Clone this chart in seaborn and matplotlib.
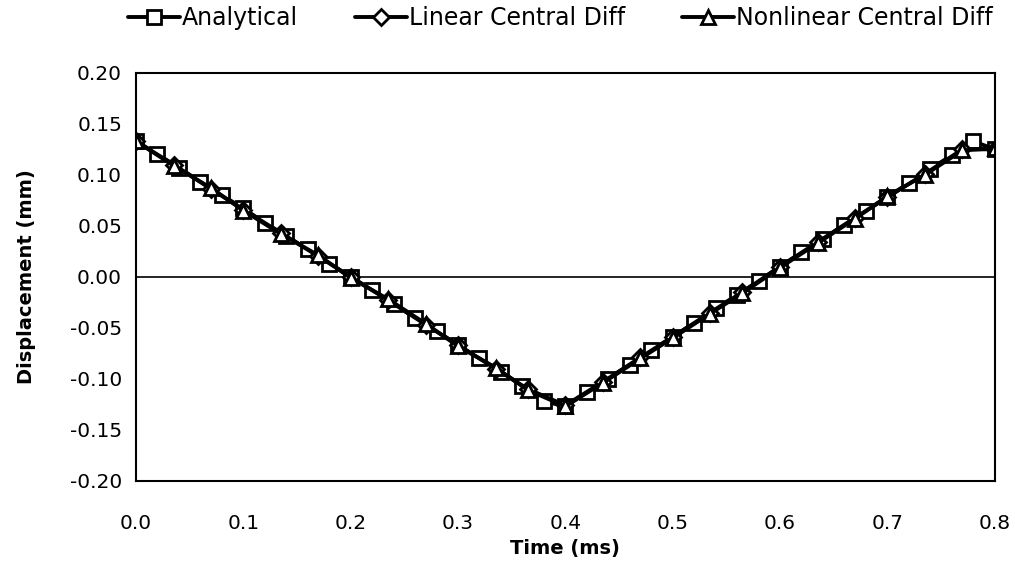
import numpy as np
import pandas as pd
import seaborn as sns
import matplotlib
matplotlib.use("Agg")
import matplotlib.pyplot as plt

# Analytical solution (sampled every 0.02 ms)
t_analytical = [0.00, 0.02, 0.04, 0.06, 0.08, 0.10, 0.12, 0.14, 0.16, 0.18,
                0.20, 0.22, 0.24, 0.26, 0.28, 0.30, 0.32, 0.34, 0.36, 0.38,
                0.40, 0.42, 0.44, 0.46, 0.48, 0.50, 0.52, 0.54, 0.56, 0.58,
                0.60, 0.62, 0.64, 0.66, 0.68, 0.70, 0.72, 0.74, 0.76, 0.78, 0.80]
d_analytical = [0.133, 0.120, 0.107, 0.093, 0.080, 0.067, 0.053, 0.040, 0.027, 0.013,
                0.000, -0.013, -0.027, -0.040, -0.053, -0.067, -0.080, -0.093, -0.107, -0.122,
                -0.127, -0.113, -0.100, -0.086, -0.072, -0.059, -0.045, -0.031, -0.018, -0.004,
                0.010, 0.024, 0.037, 0.051, 0.065, 0.078, 0.092, 0.106, 0.119, 0.133, 0.125]

# Numerical solutions
t_numeric = [0.000, 0.035, 0.070, 0.100, 0.135, 0.170, 0.200, 0.235, 0.270, 0.300,
             0.335, 0.365, 0.400, 0.435, 0.470, 0.500, 0.535, 0.565, 0.600, 0.635,
             0.670, 0.700, 0.735, 0.770, 0.800]
d_linear = [0.133, 0.110, 0.086, 0.066, 0.043, 0.020, 0.000, -0.023, -0.047, -0.067,
            -0.090, -0.110, -0.126, -0.103, -0.079, -0.059, -0.035, -0.015, 0.010, 0.034,
            0.058, 0.078, 0.101, 0.125, 0.125]
d_nonlinear = [0.133, 0.109, 0.087, 0.065, 0.042, 0.021, -0.001, -0.022, -0.046, -0.068,
               -0.089, -0.111, -0.127, -0.104, -0.080, -0.060, -0.036, -0.016, 0.009, 0.033,
               0.057, 0.079, 0.100, 0.124, 0.126]

labels = ["Analytical", "Linear Central Diff", "Nonlinear Central Diff"]
x_ticks = [0.0, 0.1, 0.2, 0.3, 0.4, 0.5, 0.6, 0.7, 0.8]
x_ticklabels = ["0.0", "0.1", "0.2", "0.3", "0.4", "0.5", "0.6", "0.7", "0.8"]
y_ticks = [-0.20, -0.15, -0.10, -0.05, 0.00, 0.05, 0.10, 0.15, 0.20]
y_ticklabels = ["-0.20", "-0.15", "-0.10", "-0.05", "0.00", "0.05", "0.10", "0.15", "0.20"]

sns.set_theme(style="white")
plt.rcParams['font.family'] = ['DejaVu Sans']
plt.rcParams['text.color'] = 'black'
plt.rcParams['axes.labelcolor'] = 'black'

fig = plt.figure(figsize=(10.15, 5.69), dpi=100)
ax = fig.add_axes([0.134, 0.155, 0.846, 0.717])

df_a = pd.DataFrame({"t": t_analytical, "d": d_analytical})
df_l = pd.DataFrame({"t": t_numeric, "d": d_linear})
df_n = pd.DataFrame({"t": t_numeric, "d": d_nonlinear})

common = dict(color="black", linewidth=2.8, markeredgecolor="black",
              markeredgewidth=2.0, markerfacecolor="white", ax=ax)
sns.lineplot(data=df_a, x="t", y="d", marker="s", markersize=10, label=labels[0], **common)
sns.lineplot(data=df_l, x="t", y="d", marker="D", markersize=8, label=labels[1], **common)
sns.lineplot(data=df_n, x="t", y="d", marker="^", markersize=10, label=labels[2], **common)

ax.axhline(0, color="black", linewidth=1.2, zorder=1)

ax.set_xlim(0, 0.8)
ax.set_ylim(-0.2, 0.2)
ax.set_xticks(x_ticks)
ax.set_yticks(y_ticks)
ax.set_xticklabels(x_ticklabels)
ax.set_yticklabels(y_ticklabels)
ax.tick_params(axis="both", labelsize=14.5, length=0, colors="black")
ax.tick_params(axis="x", pad=24)
ax.tick_params(axis="y", pad=10)
ax.set_xlabel("Time (ms)", fontsize=14, fontweight="bold", color="black")
ax.set_ylabel("Displacement (mm)", fontsize=14, fontweight="bold", color="black")
ax.xaxis.set_label_coords(0.5, -0.142)
ax.yaxis.set_label_coords(-0.116, 0.5)
for s in ax.spines.values():
    s.set_color("black")
    s.set_linewidth(1.5)
ax.grid(False)

ax.get_legend().remove()
handles, lbls = ax.get_legend_handles_labels()
fig.legend(handles, lbls, loc="center", ncol=3, bbox_to_anchor=(0.552, 0.968),
           frameon=False, fontsize=17, handlelength=2.2, handletextpad=0.1,
           columnspacing=2.4, labelcolor="black")

fig.savefig("out.png", dpi=100, facecolor="white")
